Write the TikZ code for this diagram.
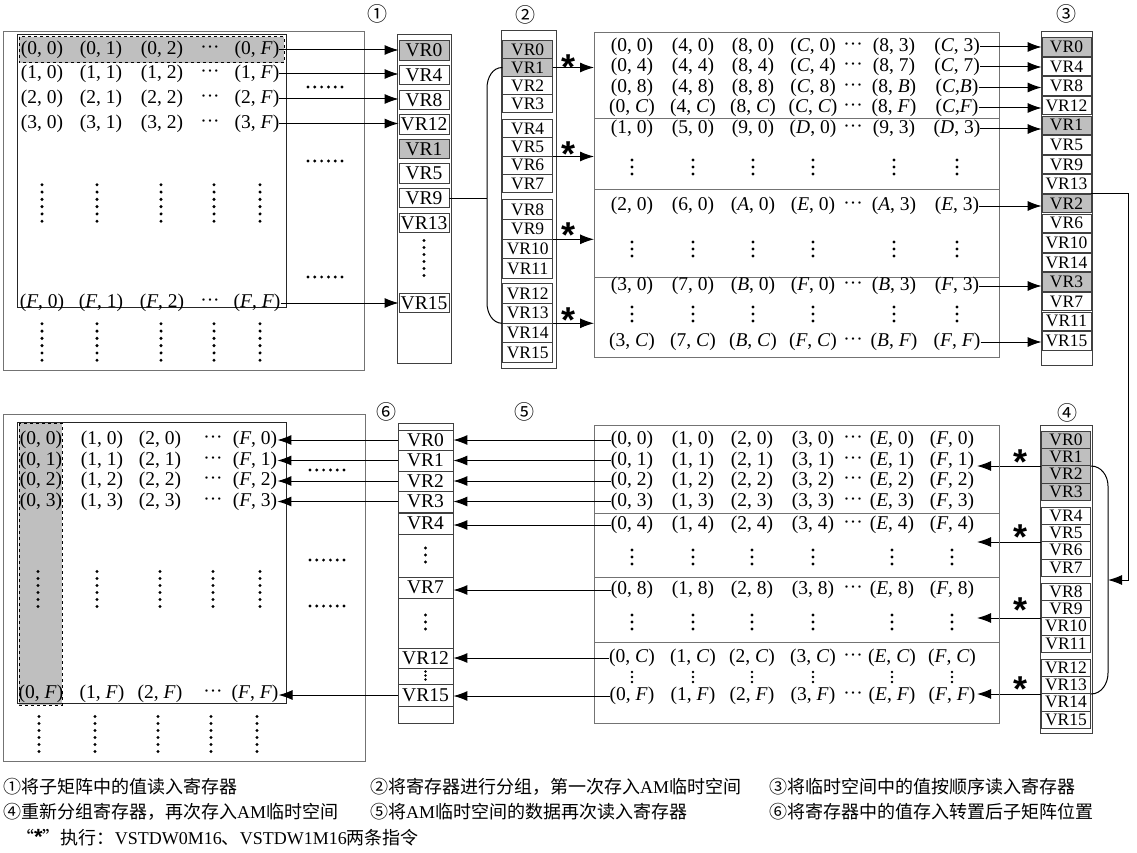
\documentclass[tikz,border=0pt]{standalone}
\usepackage{fontspec}
\setmainfont{Liberation Serif}
\setsansfont{Liberation Sans}
\newfontfamily\cjk{Noto Sans CJK SC}
\usetikzlibrary{arrows.meta}
\newcommand\pr[2]{(#1, #2)}
\newcommand\prt[2]{(#1,#2)}
\newcommand\I[1]{\textit{#1}}
\newcommand\vdotcol[5]{\foreach \kk in {1,...,#3}{\fill ({#1},{#2+(\kk-(#3+1)/2)*#4}) circle (#5pt);}}
\newcommand\hdotrow[2]{\foreach \kk in {0,...,5}{\fill ({#1+\kk*6.8},{#2}) circle (1.6pt);}}
\newcommand\mrow[8]{%
 \node[cell] (#1-1) at (\ColA,#2) {#3};
 \node[cell] (#1-2) at (\ColB,#2) {#4};
 \node[cell] (#1-3) at (\ColC,#2) {#5};
 \node[cell] (#1-4) at (\ColD,#2) {#6};
 \node[cell] (#1-d) at (\ColE,#2) {···};
 \node[cell] (#1-5) at (\ColF,#2) {#7};
 \node[cell] (#1-6) at (\ColG,#2) {#8};}
\newcommand\qrow[6]{%
 \node[cell] (#1-1) at (\QA,#2) {#3};
 \node[cell] (#1-2) at (\QB,#2) {#4};
 \node[cell] (#1-3) at (\QC,#2) {#5};
 \node[cell] (#1-d) at (\QD,#2) {···};
 \node[cell] (#1-5) at (\QE,#2) {#6};}
\newcommand\drow[3]{\foreach \xx in {\ColA,\ColB,\ColC,\ColD,\ColF,\ColG}{\vdotcol{\xx}{#1}{3}{#2}{#3}}}
\begin{document}
\begin{tikzpicture}[x=1pt,y=-1pt,
  cell/.style={font=\fontsize{19.5}{19.5}\selectfont, inner sep=0pt},
  reg/.style={draw=black!75, line width=0.8pt, minimum width=50pt, minimum height=#1, inner sep=0pt, font=\fontsize{19.5}{19.5}\selectfont},
  reg/.default=19pt,
  smallreg/.style={font=\fontsize{17.5}{17.5}\selectfont},
  colbox/.style={draw=black!75, line width=1pt},
  outerbox/.style={draw=black!55, line width=1pt},
  innerbox/.style={draw=black!85, line width=1pt},
  divider/.style={draw=black!55, line width=1pt},
  conn/.style={line width=1pt},
  arr/.style={line width=1pt, -{Latex[length=14pt,width=10pt]}},
  star/.style={font=\sffamily\bfseries\fontsize{36}{36}\selectfont, inner sep=0pt},
  lab/.style={font=\cjk\fontsize{20}{20}\selectfont, inner sep=0pt},
  leg/.style={anchor=west, inner sep=0pt, font=\cjk\fontsize{18}{18}\selectfont}]
\useasboundingbox (0,0) rectangle (1137,853);

% ================= top-left matrix =================
\draw[outerbox] (3,32) rectangle (364,370);
\fill[black!25] (19,37) rectangle (284,63);
\draw[innerbox] (17,35) rectangle (286,307);
\draw[dashed, line width=1pt] (19,37) rectangle (284,63);
\def\QA{42}\def\QB{101}\def\QC{162}\def\QD{210}\def\QE{257}
\qrow{la0}{50}{\pr00}{\pr01}{\pr02}{\pr0{\I F}}
\qrow{la1}{74}{\pr10}{\pr11}{\pr12}{\pr1{\I F}}
\qrow{la2}{99}{\pr20}{\pr21}{\pr22}{\pr2{\I F}}
\qrow{la3}{123.5}{\pr30}{\pr31}{\pr32}{\pr3{\I F}}
\qrow{laF}{303}{\pr{\I F}0}{\pr{\I F}1}{\pr{\I F}2}{\pr{\I F}{\I F}}
\foreach \xx in {42,97,161,214,260}{\vdotcol{\xx}{203}{6}{7.3}{1.7}}
\foreach \xx in {42,97,161,214,260}{\vdotcol{\xx}{342}{6}{7.3}{1.7}}
\hdotrow{308}{87}
\hdotrow{308}{161}
\hdotrow{308}{277}

% ================= column 1 =================
\node[lab] (n1) at (377,14) {①};
\draw[colbox] (397,35) rectangle (451,363);
\foreach \t/\y/\f in {VR0/50.5/black!25,VR4/75.1/white,VR8/99.7/white,VR12/124.3/white,VR1/148.9/black!25,VR5/173.5/white,VR9/198.1/white,VR13/222.7/white,VR15/303/white}
  \node[reg=19.5pt, fill=\f] (c1-\t) at (424,\y) {\t};
\vdotcol{424}{258}{6}{7}{1.7}
\draw[arr] (la0-5.east) -- (la0-5.east -| c1-VR0.west);
\draw[arr] (la1-5.east) -- (la1-5.east -| c1-VR4.west);
\draw[arr] (la2-5.east) -- (la2-5.east -| c1-VR8.west);
\draw[arr] (la3-5.east) -- (la3-5.east -| c1-VR12.west);
\draw[arr] (laF-5.east) -- (laF-5.east -| c1-VR15.west);

% ================= column 2 =================
\node[lab] (n2) at (525,15) {②};
\draw[colbox] (501,31) rectangle (556,368);
\foreach \t/\y/\h/\f in {VR0/49.5/18/black!25,VR1/67.5/18/black!25,VR2/85.5/18/white,VR3/103.5/18/white,
  VR4/128.65/18.3/white,VR5/146.95/18.3/white,VR6/165.25/18.3/white,VR7/183.55/18.3/white,
  VR8/209.35/19.7/white,VR9/229.05/19.7/white,VR10/248.75/19.7/white,VR11/268.45/19.7/white,
  VR12/293.35/19.7/white,VR13/313.05/19.7/white,VR14/332.75/19.7/white,VR15/352.45/19.7/white}
  \node[reg=\h pt, smallreg, fill=\f] (c2-\t) at (527.7,\y) {\t};
\coordinate (brk) at (487,0);
\draw[conn] (c2-VR1.west) to[out=180,in=90] (487,88) -- (487,303) to[out=-90,in=180] (c2-VR13.south west);
\draw[conn] (c1-VR9.east) -- (c1-VR9.east -| brk);

% ================= top-right matrix =================
\draw[outerbox] (594,33) rectangle (999,357);
\draw[divider] (594,119) -- (999,119);
\draw[divider] (594,190) -- (999,190);
\draw[divider] (594,277) -- (999,277);
\coordinate (trL) at (594,0);
\draw[arr] (c2-VR1.east) -- (c2-VR1.east -| trL);
\draw[arr] (c2-VR5.south east) -- (c2-VR5.south east -| trL);
\draw[arr] (c2-VR9.south east) -- (c2-VR9.south east -| trL);
\draw[arr] (c2-VR13.south east) -- (c2-VR13.south east -| trL);
\node[star] (s1) at (568,67) {*};
\node[star] (s2) at (568,154) {*};
\node[star] (s3) at (568,235) {*};
\node[star] (s4) at (568,320) {*};
\def\ColA{632}\def\ColB{693}\def\ColC{753}\def\ColD{813}\def\ColE{853}\def\ColF{894}\def\ColG{957}
\mrow{ta1}{47}{\pr00}{\pr40}{\pr80}{\pr{\I C}0}{\pr83}{\pr{\I C}3}
\mrow{ta2}{67}{\pr04}{\pr44}{\pr84}{\pr{\I C}4}{\pr87}{\pr{\I C}7}
\mrow{ta3}{87.5}{\pr08}{\pr48}{\pr88}{\pr{\I C}8}{\pr8{\I B}}{\prt{\I C}{\I B}}
\mrow{ta4}{108}{\pr0{\I C}}{\pr4{\I C}}{\pr8{\I C}}{\pr{\I C}{\I C}}{\pr8{\I F}}{\prt{\I C}{\I F}}
\mrow{tb1}{129}{\pr10}{\pr50}{\pr90}{\pr{\I D}0}{\pr93}{\pr{\I D}3}
\drow{167}{7}{1.7}
\mrow{tc1}{206}{\pr20}{\pr60}{\pr{\I A}0}{\pr{\I E}0}{\pr{\I A}3}{\pr{\I E}3}
\drow{249}{7}{1.7}
\mrow{td1}{286}{\pr30}{\pr70}{\pr{\I B}0}{\pr{\I F}0}{\pr{\I B}3}{\pr{\I F}3}
\drow{314}{7}{1.7}
\mrow{td2}{342}{\pr3{\I C}}{\pr7{\I C}}{\pr{\I B}{\I C}}{\pr{\I F}{\I C}}{\pr{\I B}{\I F}}{\pr{\I F}{\I F}}

% ================= column 3 =================
\node[lab] (n3) at (1066,14) {③};
\draw[colbox] (1041,32) rectangle (1092,365);
\foreach \t/\f [count=\k from 0] in {VR0/black!25,VR4/white,VR8/white,VR12/white,VR1/black!25,VR5/white,VR9/white,VR13/white,VR2/black!25,VR6/white,VR10/white,VR14/white,VR3/black!25,VR7/white,VR11/white,VR15/white}
  \node[reg=18.3pt, smallreg, minimum width=49pt, fill=\f] (c3-\t) at (1066.5,{46.8+19.6*\k}) {\t};
\draw[arr] (ta1-6.east) -- (ta1-6.east -| c3-VR0.west);
\draw[arr] (ta2-6.east) -- (ta2-6.east -| c3-VR4.west);
\draw[arr] (ta3-6.east) -- (ta3-6.east -| c3-VR8.west);
\draw[arr] (ta4-6.east) -- (ta4-6.east -| c3-VR12.west);
\draw[arr] (tb1-6.east) -- (tb1-6.east -| c3-VR1.west);
\draw[arr] (tc1-6.east) -- (tc1-6.east -| c3-VR2.west);
\draw[arr] (td1-6.east) -- (td1-6.east -| c3-VR3.west);
\draw[arr] (td2-6.east) -- (td2-6.east -| c3-VR15.west);

% ================= column 4 =================
\node[lab] (n4) at (1067,413) {④};
\draw[colbox] (1040,425) rectangle (1092,733);
\foreach \t/\y/\f in {VR0/439.65/black!25,VR1/456.95/black!25,VR2/474.25/black!25,VR3/491.55/black!25,
  VR4/515.65/white,VR5/532.95/white,VR6/550.25/white,VR7/567.55/white,
  VR8/591.65/white,VR9/608.95/white,VR10/626.25/white,VR11/643.55/white,
  VR12/667.65/white,VR13/684.95/white,VR14/702.25/white,VR15/719.55/white}
  \node[reg=17.3pt, smallreg, minimum width=49pt, fill=\f] (c4-\t) at (1066,\y) {\t};
\coordinate (turn) at (1128,580);
\coordinate (b4) at (1108,580);
\draw[arr] (c3-VR13.south east) -| (turn) -- (b4);
\draw[conn] (c4-VR1.south east) to[out=0,in=90] (1108,486) -- (1108,673) to[out=-90,in=0] (c4-VR13.south east);
\coordinate (brR) at (977,0);
\draw[arr] (c4-VR1.south west) -- (c4-VR1.south west -| brR);
\draw[arr] (c4-VR5.south west) -- (c4-VR5.south west -| brR);
\draw[arr] (c4-VR9.south west) -- (c4-VR9.south west -| brR);
\draw[arr] (c4-VR13.south west) -- (c4-VR13.south west -| brR);
\node[star] (s5) at (1020,462) {*};
\node[star] (s6) at (1020,537) {*};
\node[star] (s7) at (1020,610) {*};
\node[star] (s8) at (1020,689) {*};

% ================= bottom-right matrix =================
\draw[outerbox] (594,425) rectangle (999,723);
\draw[divider] (594,513) -- (999,513);
\draw[divider] (594,577) -- (999,577);
\draw[divider] (594,642) -- (999,642);
\def\ColC{752}\def\ColF{892}\def\ColG{952}
\mrow{ba1}{440}{\pr00}{\pr10}{\pr20}{\pr30}{\pr{\I E}0}{\pr{\I F}0}
\mrow{ba2}{460.5}{\pr01}{\pr11}{\pr21}{\pr31}{\pr{\I E}1}{\pr{\I F}1}
\mrow{ba3}{481}{\pr02}{\pr12}{\pr22}{\pr32}{\pr{\I E}2}{\pr{\I F}2}
\mrow{ba4}{501.5}{\pr03}{\pr13}{\pr23}{\pr33}{\pr{\I E}3}{\pr{\I F}3}
\mrow{bb1}{525}{\pr04}{\pr14}{\pr24}{\pr34}{\pr{\I E}4}{\pr{\I F}4}
\drow{557}{7}{1.7}
\mrow{bc1}{590}{\pr08}{\pr18}{\pr28}{\pr38}{\pr{\I E}8}{\pr{\I F}8}
\drow{622}{7}{1.7}
\mrow{bd1}{658}{\pr0{\I C}}{\pr1{\I C}}{\pr2{\I C}}{\pr3{\I C}}{\pr{\I E}{\I C}}{\pr{\I F}{\I C}}
\drow{677}{5}{1.3}
\mrow{bd2}{696}{\pr0{\I F}}{\pr1{\I F}}{\pr2{\I F}}{\pr3{\I F}}{\pr{\I E}{\I F}}{\pr{\I F}{\I F}}

% ================= column 5 =================
\node[lab] (n5) at (524,412) {⑤};
\node[lab] (n6) at (386,412) {⑥};
\draw[colbox] (398,423) rectangle (453,723);
\foreach \t/\y/\h in {VR0/440/20,VR1/460.5/21,VR2/481/20,VR3/501.5/21,VR4/523.5/21,VR7/587.5/21,VR12/658/20,VR15/695/22}
  \node[reg=\h pt, minimum width=55pt] (c5-\t) at (425.5,\y) {\t};
\vdotcol{425.5}{555}{3}{7}{1.7}
\vdotcol{425.5}{622}{3}{7}{1.7}
\vdotcol{425.5}{675.5}{3}{4}{1.3}
\draw[arr] (ba1-1.west) -- (ba1-1.west -| c5-VR0.east);
\draw[arr] (ba2-1.west) -- (ba2-1.west -| c5-VR1.east);
\draw[arr] (ba3-1.west) -- (ba3-1.west -| c5-VR2.east);
\draw[arr] (ba4-1.west) -- (ba4-1.west -| c5-VR3.east);
\draw[arr] (bb1-1.west) -- (bb1-1.west -| c5-VR4.east);
\draw[arr] (bc1-1.west) -- (bc1-1.west -| c5-VR7.east);
\draw[arr] (bd1-1.west) -- (bd1-1.west -| c5-VR12.east);
\draw[arr] (bd2-1.west) -- (bd2-1.west -| c5-VR15.east);

% ================= bottom-left matrix =================
\draw[outerbox] (3,414) rectangle (365,761);
\fill[black!25] (19,423) rectangle (62,705);
\draw[innerbox] (17,422) rectangle (286,703);
\draw[dashed, line width=1pt] (19,423) rectangle (62,705);
\def\QA{41}\def\QB{102}\def\QC{160}\def\QD{213}\def\QE{255}
\qrow{lb0}{440}{\pr00}{\pr10}{\pr20}{\pr{\I F}0}
\qrow{lb1}{460.5}{\pr01}{\pr11}{\pr21}{\pr{\I F}1}
\qrow{lb2}{481}{\pr02}{\pr12}{\pr22}{\pr{\I F}2}
\qrow{lb3}{501.5}{\pr03}{\pr13}{\pr23}{\pr{\I F}3}
\qrow{lbF}{694}{\pr0{\I F}}{\pr1{\I F}}{\pr2{\I F}}{\pr{\I F}{\I F}}
\foreach \xx in {38,97,160,213,260}{\vdotcol{\xx}{589}{6}{7}{1.7}}
\foreach \xx in {39,95,158,211,257}{\vdotcol{\xx}{734}{6}{7}{1.7}}
\hdotrow{310}{470}
\hdotrow{310}{560}
\hdotrow{310}{606}
\draw[arr] (c5-VR0.west) -- (c5-VR0.west -| lb0-5.east);
\draw[arr] (c5-VR1.west) -- (c5-VR1.west -| lb1-5.east);
\draw[arr] (c5-VR2.west) -- (c5-VR2.west -| lb2-5.east);
\draw[arr] (c5-VR3.west) -- (c5-VR3.west -| lb3-5.east);
\draw[arr] (c5-VR15.west) -- (c5-VR15.west -| lbF-5.east);

% ================= legend =================
\node[leg] (g1) at (3,787) {①将子矩阵中的值读入寄存器};
\node[leg] (g2) at (370,787) {②将寄存器进行分组，第一次存入{\rmfamily AM}临时空间};
\node[leg] (g3) at (769,787) {③将临时空间中的值按顺序读入寄存器};
\node[leg] (g4) at (3,812) {④重新分组寄存器，再次存入{\rmfamily AM}临时空间};
\node[leg] (g5) at (370,812) {⑤将{\rmfamily AM}临时空间的数据再次读入寄存器};
\node[leg] (g6) at (769,812) {⑥将寄存器中的值存入转置后子矩阵位置};
\node[leg] (g7) at (16,838) {“{\sffamily\bfseries\fontsize{22}{22}\selectfont *}”执行：{\rmfamily VSTDW0M16}、{\rmfamily VSTDW1M16}两条指令};
\end{tikzpicture}
\end{document}
